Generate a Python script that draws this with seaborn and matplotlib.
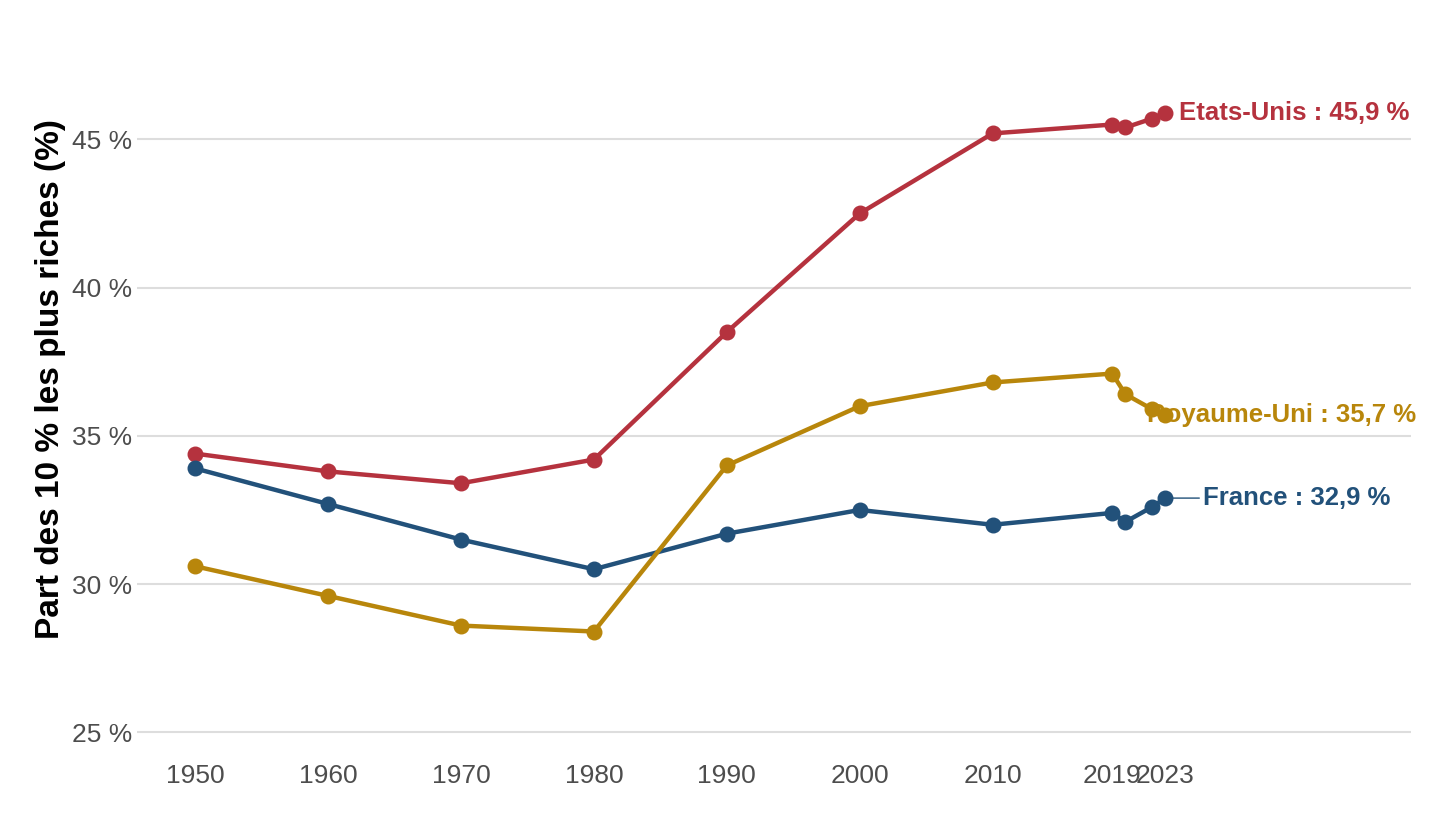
import matplotlib
matplotlib.use("Agg")
import matplotlib.pyplot as plt
import seaborn as sns
import pandas as pd

years = [1950, 1960, 1970, 1980, 1990, 2000, 2010, 2019, 2020, 2022, 2023]
usa = [34.4, 33.8, 33.4, 34.2, 38.5, 42.5, 45.2, 45.5, 45.4, 45.7, 45.9]
uk = [30.6, 29.6, 28.6, 28.4, 34.0, 36.0, 36.8, 37.1, 36.4, 35.9, 35.7]
france = [33.9, 32.7, 31.5, 30.5, 31.7, 32.5, 32.0, 32.4, 32.1, 32.6, 32.9]
tick_years = [1950, 1960, 1970, 1980, 1990, 2000, 2010, 2019, 2023]

colors = {"Etats-Unis": "#B5323E", "Royaume-Uni": "#B8860B", "France": "#22517A"}
df = pd.concat([
    pd.DataFrame({"year": years, "value": usa, "pays": "Etats-Unis"}),
    pd.DataFrame({"year": years, "value": uk, "pays": "Royaume-Uni"}),
    pd.DataFrame({"year": years, "value": france, "pays": "France"}),
])

sns.set_theme(style="white")
plt.rcParams["font.family"] = ["Liberation Sans", "DejaVu Sans"]
fig, ax = plt.subplots(figsize=(14.4, 8.25), dpi=100)
fig.subplots_adjust(left=0.095, right=0.98, top=1.0, bottom=0.08)

for name, grp in df.groupby("pays"):
    sns.lineplot(data=grp, x="year", y="value", color=colors[name], lw=3.2, ax=ax, zorder=3)
    ax.scatter(grp["year"], grp["value"], color=colors[name], s=110, zorder=4)

ax.annotate("Etats-Unis : 45,9 %", (2023, usa[-1]), xytext=(2024, usa[-1]),
            color=colors["Etats-Unis"], fontsize=18.5, fontweight="bold", va="center")
ax.annotate("Royaume-Uni : 35,7 %", (2023, uk[-1]), xytext=(2021.6, uk[-1]),
            color=colors["Royaume-Uni"], fontsize=18.5, fontweight="bold", va="center", zorder=2)
ax.annotate("France : 32,9 %", (2023, france[-1]), xytext=(2025.8, france[-1]),
            color=colors["France"], fontsize=18.5, fontweight="bold", va="center",
            arrowprops=dict(arrowstyle="-", color=colors["France"], lw=1, shrinkA=0, shrinkB=5))

ax.set_xlim(1945.6, 2041.5)
ax.set_ylim(24.1, 49.7)
ax.set_yticks([25, 30, 35, 40, 45])
ax.set_yticklabels([f"{v} %" for v in [25, 30, 35, 40, 45]])
ax.set_xticks(tick_years)
ax.set_xticklabels([str(y) for y in tick_years])
ax.tick_params(labelsize=19, colors="#4d4d4d", length=0)
ax.yaxis.grid(True, color="#dddddd", lw=1.5)
ax.xaxis.grid(False)
ax.set_xlabel("")
ax.set_ylabel("Part des 10 % les plus riches (%)", fontsize=24, fontweight="bold", color="black")
sns.despine(ax=ax, left=True, bottom=True)

fig.savefig("out.png", dpi=100)
